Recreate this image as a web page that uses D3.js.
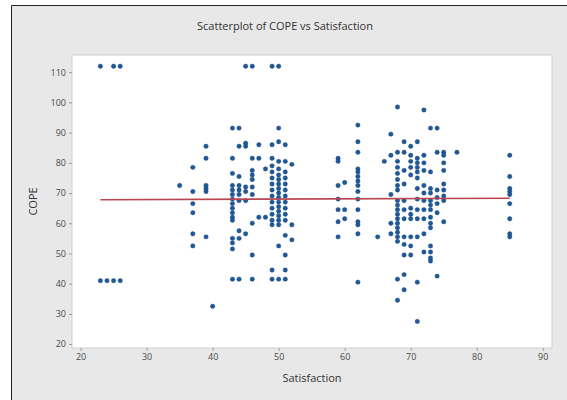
<!DOCTYPE html>
<html>
<head>
<meta charset="utf-8">
<script src="https://cdn.jsdelivr.net/npm/d3@7"></script>
<style>
  body { margin: 0; background: #fff; }
  #chart svg { display: block; }
</style>
</head>
<body>
<div id="chart"></div>
<script>
// Satisfaction levels (x) and the COPE scores seen at each level (y)
var satLevels = [23, 24, 25, 26, 35, 37, 39, 40, 43, 44, 45, 46, 47, 48, 49, 50, 51, 52,
                 59, 60, 62, 65, 66, 67, 68, 69, 70, 71, 72, 73, 74, 75, 77, 85];
var copeByLevel = [
    [112, 41],
    [41],
    [112, 41],
    [112, 41],
    [72.5],
    [78.5, 70.5, 66.5, 63.5, 56.5, 52.5],
    [85.5, 81.5, 72.5, 71.5, 70.5, 55.5],
    [32.5],
    [91.5, 81.5, 76.5, 72.5, 71, 69.5, 68, 66.5, 65, 63.5, 62, 61, 55, 53.5, 51.5, 41.5],
    [91.5, 85.5, 75.5, 72.5, 71, 69.5, 67.5, 57.5, 55, 41.5],
    [112, 86.5, 85.5, 72, 70.5, 67.5, 56.5],
    [112, 81.5, 77.5, 76, 74.5, 72, 69.5, 60, 49.5, 41.5],
    [86, 81.5, 62],
    [78, 62],
    [112, 86, 81.5, 79, 77, 75, 73, 71, 69, 67, 65, 63, 61, 59.5, 44.5, 41.5],
    [112, 91.5, 87, 80.5, 78, 76, 74.5, 73, 71.5, 70, 68.5, 67, 65.5, 64, 62.5, 61, 59.5, 52.5, 41.5],
    [86, 80.5, 77, 75, 73, 71, 69, 67, 65, 63, 61, 56, 49.5, 44.5, 41.5],
    [79.5, 59.5, 54.5],
    [81.5, 80.5, 72.5, 68, 64.5, 60.5, 55.5],
    [73.5, 64.5, 61.5],
    [92.5, 87, 83.5, 78, 77, 75.5, 74, 72.5, 70.5, 68, 64.5, 60.5, 59.5, 56.5, 40.5],
    [55.5],
    [80.5],
    [89.5, 82.5, 69.5, 60, 56.5],
    [98.5, 83.5, 80.5, 78.5, 76.5, 74.5, 72.5, 71, 67.5, 66, 64.5, 63, 61.5, 60, 58.5, 57, 55.5, 54, 41.5, 34.5],
    [87, 83.5, 77.5, 73, 67.5, 64.5, 61.5, 55.5, 53, 49.5, 43, 38],
    [85.5, 82.5, 80.5, 78.5, 76, 65, 63, 61.5, 55.5, 52.5, 49.5],
    [87, 81.5, 80, 78.5, 77, 75, 71.5, 68, 64.5, 61.5, 55.5, 40.5, 27.5],
    [97.5, 82.5, 80, 77.5, 72.5, 70, 67.5, 64.5, 61.5, 56.5, 50.5],
    [91.5, 77, 71.5, 70, 67.5, 66, 64.5, 62, 60, 58.5, 52.5, 50.5, 48.5, 47.5],
    [91.5, 83.5, 71, 68.5, 66.5, 63.5, 42.5],
    [83.5, 82.5, 80, 77.5, 73, 71, 69, 67.5, 60.5],
    [83.5],
    [82.5, 75.5, 71.5, 70.5, 69.5, 66.5, 61.5, 56.5, 55.5]
];
// fitted line end points (Satisfaction, COPE)
var fitX = [23, 85];
var fitY = [67.8, 68.3];
var xTicks = [20, 30, 40, 50, 60, 70, 80, 90];
var yTicks = [20, 30, 40, 50, 60, 70, 80, 90, 100, 110];

var width = 567, height = 400;
var plot = { left: 72, top: 55, right: 552, bottom: 348 };

var svg = d3.select("#chart").append("svg")
    .attr("width", width)
    .attr("height", height);

// gray frame of the graph window
svg.append("rect")
    .attr("x", 11).attr("y", 5)
    .attr("width", width - 11).attr("height", height - 5)
    .attr("fill", "#e8e8e8");
svg.append("path")
    .attr("d", "M11.5," + height + "V5.5H" + width)
    .attr("fill", "none")
    .attr("stroke", "#222")
    .attr("stroke-width", 1);

// plot area
svg.append("rect")
    .attr("x", plot.left).attr("y", plot.top)
    .attr("width", plot.right - plot.left).attr("height", plot.bottom - plot.top)
    .attr("fill", "#fff")
    .attr("stroke", "#cfcfcf");

var x = d3.scaleLinear().domain([18.7, 91.4]).range([plot.left, plot.right]);
var y = d3.scaleLinear().domain([18.7, 115.7]).range([plot.bottom, plot.top]);

var xAxis = svg.append("g")
    .attr("transform", "translate(0," + plot.bottom + ")")
    .call(d3.axisBottom(x).tickValues(xTicks).tickSize(3).tickPadding(3));
var yAxis = svg.append("g")
    .attr("transform", "translate(" + plot.left + ",0)")
    .call(d3.axisLeft(y).tickValues(yTicks).tickSize(3).tickPadding(3));

[xAxis, yAxis].forEach(function (g) {
    g.select(".domain").remove();
    g.selectAll(".tick line").attr("stroke", "#999");
    g.selectAll(".tick text")
        .attr("fill", "#4a4a4a")
        .style("font-family", "'Open Sans', sans-serif")
        .style("font-size", "9px");
});

// flatten the columns into points
var points = [];
for (var i = 0; i < satLevels.length; i++) {
    for (var j = 0; j < copeByLevel[i].length; j++) {
        points.push({ sat: satLevels[i], cope: copeByLevel[i][j] });
    }
}

svg.append("g")
    .selectAll("circle")
    .data(points)
    .enter()
    .append("circle")
    .attr("cx", function (d) { return x(d.sat); })
    .attr("cy", function (d) { return y(d.cope); })
    .attr("r", 2.2)
    .attr("fill", "#1d5a9c")
    .attr("stroke", "#1a3f6e")
    .attr("stroke-width", 0.4);

// regression line
svg.append("line")
    .attr("x1", x(fitX[0])).attr("y1", y(fitY[0]))
    .attr("x2", x(fitX[1])).attr("y2", y(fitY[1]))
    .attr("stroke", "#b8454f")
    .attr("stroke-width", 1.6);

// titles
svg.append("text")
    .attr("x", 285).attr("y", 30)
    .attr("text-anchor", "middle")
    .attr("fill", "#333")
    .style("font-family", "'Open Sans', sans-serif")
    .style("font-size", "11px")
    .text("Scatterplot of COPE vs Satisfaction");

svg.append("text")
    .attr("x", (plot.left + plot.right) / 2).attr("y", 382)
    .attr("text-anchor", "middle")
    .attr("fill", "#333")
    .style("font-family", "'Open Sans', sans-serif")
    .style("font-size", "11px")
    .text("Satisfaction");

svg.append("text")
    .attr("transform", "translate(37," + (plot.top + plot.bottom) / 2 + ") rotate(-90)")
    .attr("text-anchor", "middle")
    .attr("fill", "#333")
    .style("font-family", "'Open Sans', sans-serif")
    .style("font-size", "11px")
    .text("COPE");
</script>
</body>
</html>
